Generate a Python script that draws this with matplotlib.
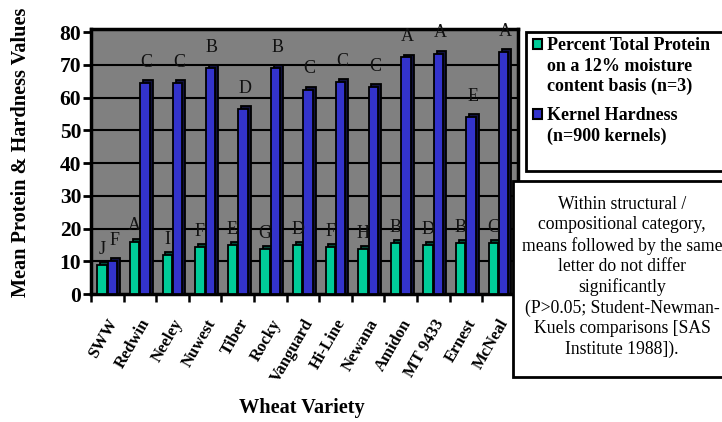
import numpy as np
import matplotlib
matplotlib.use("Agg")
import matplotlib.pyplot as plt
from matplotlib.patches import Rectangle

VARIETIES = ["SWW", "Redwin", "Neeley", "Nuwest", "Tiber", "Rocky", "Vanguard",
             "Hi-Line", "Newana", "Amidon", "MT 9433", "Ernest", "McNeal"]
PROTEIN = [8.9, 16.0, 11.9, 14.3, 15.0, 13.7, 15.0, 14.3, 13.7, 15.5, 15.0, 15.5, 15.5]
HARDNESS = [10.0, 64.5, 64.5, 69.0, 56.5, 69.0, 62.5, 64.8, 63.2, 72.3, 73.5, 54.0, 74.0]
PROTEIN_LETTERS = ["J", "A", "I", "F", "E", "G", "D", "F", "H", "B", "D", "B", "C"]
HARDNESS_LETTERS = ["F", "C", "C", "B", "D", "B", "C", "C", "C", "A", "A", "E", "A"]
YTICKS = [0, 10, 20, 30, 40, 50, 60, 70, 80]

GREEN, BLUE, GRAY = "#00CC99", "#3333CC", "#808080"
SERIF = ["Liberation Serif", "DejaVu Serif"]
plt.rcParams["font.family"] = SERIF

W, H = 722, 422
fig = plt.figure(figsize=(W / 100, H / 100), dpi=100)
ax = fig.add_axes([91 / W, 1 - 294 / H, (518 - 91) / W, (294 - 29) / H])
ax.set_facecolor(GRAY)
ax.set_xlim(-0.5, 12.6)
ax.set_ylim(0, 81)

x = np.arange(len(VARIETIES))
bw, off = 0.29, 0.16
dx, dy = 0.09, 0.9   # fake 3-D depth
for vals, xs, col, side in [(PROTEIN, x - off, GREEN, "#004a38"), (HARDNESS, x + off, BLUE, "#10103d")]:
    ax.bar(xs + dx, np.array(vals) + dy, bw, color=side, edgecolor="black", lw=1.3, zorder=2)
    ax.bar(xs, vals, bw, color=col, edgecolor="black", lw=1.3, zorder=3)

for xi, v, s in zip(x - off, PROTEIN, PROTEIN_LETTERS):
    ax.text(xi, v + 4.8, s, ha="center", va="center", fontsize=13, color="#111111", zorder=4)
for xi, v, s in zip(x + off, HARDNESS, HARDNESS_LETTERS):
    ax.text(xi + 0.05, v + 6.3, s, ha="center", va="center", fontsize=13, color="#111111", zorder=4)

ax.set_yticks(YTICKS)
ax.set_yticklabels([str(t) for t in YTICKS], fontsize=15.5, fontweight="bold")
for t in YTICKS[1:-1]:
    ax.axhline(t, color="black", lw=1.5, zorder=1)
ax.tick_params(axis="y", direction="out", length=6, width=2, pad=1)
ax.set_xticks(x)
ax.set_xticklabels(VARIETIES, rotation=60, ha="right", va="top", rotation_mode="anchor",
                   fontsize=12, fontweight="bold")
ax.tick_params(axis="x", length=0, pad=16)
ax.set_xticks(np.arange(-0.5, 13, 1), minor=True)
ax.tick_params(axis="x", which="minor", direction="out", length=6, width=1.8)
for sp in ax.spines.values():
    sp.set_linewidth(2.5)

fig.text(21 / W, 1 - 152 / H, "Mean Protein & Hardness Values", rotation=90, ha="center",
         va="center", fontsize=14.6, fontweight="bold")
fig.text(302 / W, 1 - 408 / H, "Wheat Variety", ha="center", va="center", fontsize=14.6, fontweight="bold")

# legend box
fig.patches.append(Rectangle((526 / W, 1 - 171 / H), 220 / W, 139 / H, transform=fig.transFigure,
                             facecolor="white", edgecolor="black", lw=2, zorder=5))
fig.patches.append(Rectangle((533 / W, 1 - 49 / H), 9 / W, 10 / H, transform=fig.transFigure,
                             facecolor=GREEN, edgecolor="black", lw=1.5, zorder=6))
fig.patches.append(Rectangle((533 / W, 1 - 119 / H), 9 / W, 10 / H, transform=fig.transFigure,
                             facecolor=BLUE, edgecolor="black", lw=1.5, zorder=6))
fig.text(547 / W, 1 - 37 / H, "Percent Total Protein\non a 12% moisture\ncontent basis (n=3)",
         ha="left", va="top", fontsize=13, fontweight="bold", linespacing=1.27, zorder=7)
fig.text(547 / W, 1 - 107 / H, "Kernel Hardness\n(n=900 kernels)",
         ha="left", va="top", fontsize=13, fontweight="bold", linespacing=1.27, zorder=7)

# note box
fig.patches.append(Rectangle((513 / W, 1 - 377 / H), 230 / W, 196 / H, transform=fig.transFigure,
                             facecolor="white", edgecolor="black", lw=2, zorder=5))
fig.text(622 / W, 1 - 277 / H,
         "Within structural /\ncompositional category,\nmeans followed by the same\nletter do not differ\n"
         "significantly\n(P>0.05; Student-Newman-\nKuels comparisons [SAS\nInstitute 1988]).",
         ha="center", va="center", fontsize=12.7, linespacing=1.25, zorder=7)

fig.savefig("out.png", dpi=100)
